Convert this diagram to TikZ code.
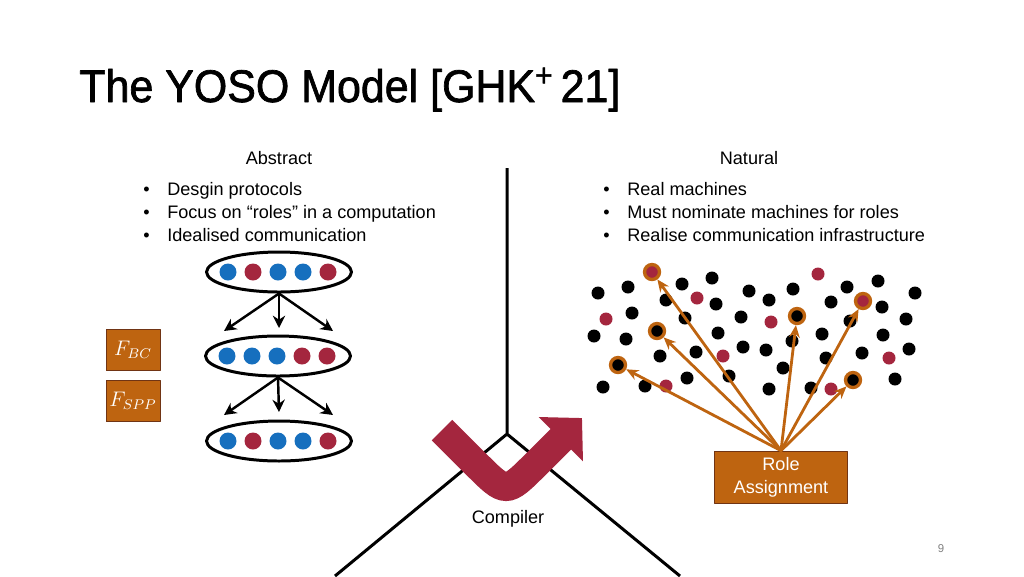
\documentclass[tikz,border=0pt]{standalone}
\usepackage{fontspec}
\setmainfont{Liberation Sans}
\newfontfamily\titlefont[FakeBold=1.6]{Liberation Sans}
\usetikzlibrary{arrows.meta,shapes.geometric}
\definecolor{yosored}{RGB}{164,38,62}
\definecolor{yosoblue}{RGB}{22,111,190}
\definecolor{yosoorange}{RGB}{190,100,16}
\definecolor{yosobrown}{RGB}{112,52,20}
\tikzset{
  body/.style={font=\fontsize{10.3}{13}\selectfont,inner sep=0pt},
  dot/.style={circle,fill=black,inner sep=0pt,minimum size=0.26cm},
  ringdot/.style={circle,draw=yosoorange,line width=1.9pt,inner sep=0pt,minimum size=0.30cm},
  setdot/.style={circle,inner sep=0pt,minimum size=0.34cm},
  roleset/.style={ellipse,draw,line width=1.7pt,minimum width=2.9cm,minimum height=0.8cm},
  funcbox/.style={draw=yosobrown,fill=yosoorange,text=white,minimum width=1.08cm,minimum height=0.83cm,inner sep=0pt,font=\fontsize{11.5}{13}\selectfont},
  pick/.style={->,line width=1.6pt,draw=yosoorange,>={Stealth[length=7pt,width=6pt]}},
  split/.style={->,line width=1.4pt,>={Stealth[length=7pt,width=7pt]}}
}
\begin{document}
\begin{tikzpicture}[x=0.02cm,y=-0.02cm,line join=round,line cap=round]
\useasboundingbox (0,0) rectangle (1024,576);
% title and headings
\node[anchor=base west,inner sep=0pt,font=\titlefont\fontsize{26}{30}\selectfont] (title) at (79,102) {\scalebox{0.94}[1]{The YOSO Model [GHK\textsuperscript{+}\,21]}};
\node[body] (abst) at (279,158) {Abstract};
\node[body] (nat) at (749,158) {Natural};
\foreach \t [count=\i] in {Desgin protocols,Focus on “roles” in a computation,Idealised communication}
  \node[body,anchor=base west] (abs\i) at (143,172+23*\i) {\makebox[0.48cm][l]{\textbullet}\t};
\foreach \t [count=\i] in {Real machines,Must nominate machines for roles,Realise communication infrastructure}
  \node[body,anchor=base west] (nat\i) at (603,172+23*\i) {\makebox[0.48cm][l]{\textbullet}\t};

% the split
\path
(507,168) coordinate (T)
(507,434) coordinate (V)
(335,576) coordinate (L)
(680,576) coordinate (R)
;
\draw[line width=1.7pt,line cap=butt] (T)--(V)--(L) (V)--(R);

% compiler arrow
\path
(442,430) coordinate (c1)
(476,464) coordinate (c2)
(506,494) coordinate (c3)
(536,464) coordinate (c4)
(582,418) coordinate (c5)
;
\draw[yosored,line width=0.58cm,line cap=butt,line join=miter,-{Triangle[length=0.6cm,width=1.22cm]}]
  (c1)--(c2) .. controls (c3) .. (c4)--(c5);
\node[body] (comp) at (508,519) {Compiler};

% abstract side
\node[roleset] (set1) at (279,272) {};
\node[roleset] (set2) at (278,356) {};
\node[roleset] (set3) at (279,441) {};
\foreach \c [count=\i] in {yosoblue,yosored,yosoblue,yosoblue,yosored}
  \node[setdot,fill=\c] (a\i) at (228+25*\i-25,272) {};
\foreach \c [count=\i] in {yosoblue,yosoblue,yosoblue,yosored,yosored}
  \node[setdot,fill=\c] (b\i) at (227+25*\i-25,356) {};
\foreach \c [count=\i] in {yosoblue,yosored,yosoblue,yosoblue,yosored}
  \node[setdot,fill=\c] (d\i) at (228+25*\i-25,441) {};
\path
(224,331) coordinate (s1)
(279,328) coordinate (s2)
(333,331) coordinate (s3)
(224,415) coordinate (t1)
(279,412) coordinate (t2)
(333,415) coordinate (t3)
;
\foreach \k in {1,2,3} {
  \draw[split] (set1.south)--(s\k);
  \draw[split] (set2.south)--(t\k);
}
\node[funcbox] (fbc) at (133,350) {$F_{BC}$};
\node[funcbox] (fspp) at (133,401) {$F_{SPP}$};

% natural side
\foreach \x/\y [count=\i] in {598/293,628/287,682/284,712/278,666/300,716/304,632/313,685/318,749/291,769/300,793/289,741/317,594/336,626/339,718/333,660/356,696/352,743/347,766/350,792/341,783/368,687/378,729/376,645/386,603/387,769/389,811/388,831/302,847/287,878/281,915/293,882/307,850/321,906/319,822/334,883/335,909/349,862/353,826/358,895/379}
  \node[dot] (m\i) at (\x,\y) {};
\foreach \x/\y [count=\i] in {818/274,697/298,606/319,771/322,723/356,889/358,666/386,831/389}
  \node[dot,fill=yosored] (h\i) at (\x,\y) {};
\node[ringdot,fill=yosored] (r1) at (652,272) {};
\node[ringdot,fill=black] (r2) at (657,331) {};
\node[ringdot,fill=black] (r3) at (618,365) {};
\node[ringdot,fill=black] (r4) at (797,316) {};
\node[ringdot,fill=yosored] (r5) at (863,301) {};
\node[ringdot,fill=black] (r6) at (853,380) {};
\node[draw=yosobrown,fill=yosoorange,text=white,body,font=\fontsize{10.3}{13.2}\selectfont,align=center,minimum width=2.66cm,minimum height=1.04cm] (role) at (781,477) {Role\\Assignment};
\foreach \k in {1,...,6}
  \draw[pick] (role.north)--(r\k);

\node[inner sep=0pt,text=gray,font=\fontsize{6.5}{8}\selectfont] (pg) at (941,549) {9};
\end{tikzpicture}
\end{document}
